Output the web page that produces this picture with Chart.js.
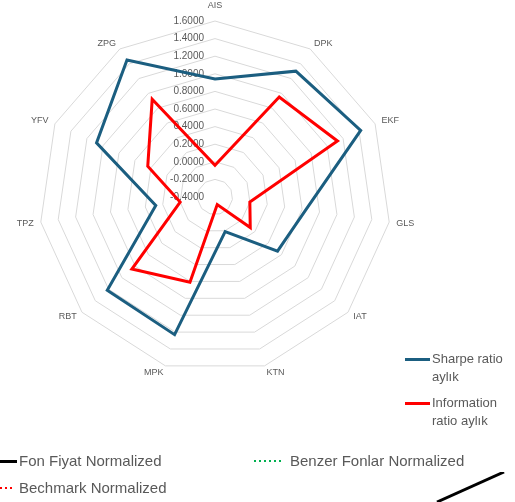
<!DOCTYPE html>
<html>
<head>
<meta charset="utf-8">
<script src="https://cdn.jsdelivr.net/npm/chart.js@4"></script>
<style>
html,body{margin:0;padding:0;background:#fff;width:515px;height:502px;overflow:hidden;font-family:"Liberation Sans",Arial,sans-serif;color:#595959;}
#wrap{position:relative;width:515px;height:502px;}
#radar{position:absolute;left:0;top:0;}
#tail{position:absolute;left:432px;top:468px;}
.rleg{position:absolute;left:405px;font-size:13px;line-height:17.5px;}
.rleg .sw{position:absolute;left:0;top:7.5px;width:25px;height:3px;}
.rleg .tx{position:absolute;left:27px;top:0;white-space:nowrap;}
.bleg{position:absolute;font-size:15px;line-height:18px;white-space:nowrap;}
.bsw{position:absolute;height:3px;}
</style>
</head>
<body>
<div id="wrap">
  <canvas id="radar" width="515" height="502"></canvas>
  <canvas id="tail" width="78" height="34"></canvas>

  <div class="rleg" style="top:350px;"><span class="sw" style="background:#1B5E80;"></span><div class="tx">Sharpe ratio<br>aylık</div></div>
  <div class="rleg" style="top:394px;"><span class="sw" style="background:#FF0000;"></span><div class="tx">Information<br>ratio aylık</div></div>

  <div class="bsw" style="left:0;top:459.5px;width:17px;background:#000;"></div>
  <div class="bleg" style="left:19px;top:452px;">Fon Fiyat Normalized</div>
  <div class="bsw" style="left:254px;top:460px;width:30px;height:2px;background:repeating-linear-gradient(to right,#00B050 0 2px,transparent 2px 5px);"></div>
  <div class="bleg" style="left:290px;top:452px;">Benzer Fonlar Normalized</div>
  <div class="bsw" style="left:0;top:487px;width:13px;height:2px;background:repeating-linear-gradient(to right,#FF0000 0 2px,transparent 2px 5px);"></div>
  <div class="bleg" style="left:19px;top:479px;">Bechmark Normalized</div>
</div>
<script>
// ---- data ----
const categories = ['AIS','DPK','EKF','GLS','IAT','KTN','MPK','RBT','TPZ','YFV','ZPG'];
const sharpeRatioAylik = [0.94, 1.30, 1.42, 0.64, 0.54, 0.01, 1.23, 1.22, 0.28, 1.08, 1.45];
const informationRatioAylik = [-0.04, 0.95, 1.13, 0.00, 0.13, -0.31, 0.61, 0.85, 0.00, 0.44, 0.92];
const tickValues = [-0.4, -0.2, 0.0, 0.2, 0.4, 0.6, 0.8, 1.0, 1.2, 1.4, 1.6];
const fonFiyatTail = [1.02, 1.10];

const tickLabelPlugin = {
  id: 'tickLabelsLeft',
  beforeDatasetsDraw(chart) {
    const s = chart.scales.r, ctx = chart.ctx;
    ctx.save();
    ctx.font = '10px "Liberation Sans", Arial, sans-serif';
    ctx.fillStyle = '#595959';
    ctx.textAlign = 'right';
    ctx.textBaseline = 'middle';
    s.ticks.forEach(t => {
      const d = s.getDistanceFromCenterForValue(t.value);
      ctx.fillText(t.value.toFixed(4), s.xCenter - 11, s.yCenter - d);
    });
    ctx.restore();
  }
};

const pointLabelPlugin = {
  id: 'pointLabelsSide',
  beforeDatasetsDraw(chart) {
    const s = chart.scales.r, ctx = chart.ctx;
    ctx.save();
    ctx.font = '9px "Liberation Sans", Arial, sans-serif';
    ctx.fillStyle = '#595959';
    ctx.textBaseline = 'middle';
    s.getLabels().forEach((lab, i) => {
      const p = s.getPointPosition(i, s.drawingArea + 7);
      const ang = ((s.getIndexAngle(i) * 180 / Math.PI) % 360 + 360) % 360;
      let align = 'center', y = p.y;
      if (ang > 1 && ang < 179) align = 'left';
      else if (ang > 181 && ang < 359) align = 'right';
      if (ang <= 1 || ang >= 359) y -= 8.5;
      ctx.textAlign = align;
      ctx.fillText(lab, p.x, y);
    });
    ctx.restore();
  }
};

new Chart(document.getElementById('radar'), {
  type: 'radar',
  data: {
    labels: categories,
    datasets: [
      { label: 'Sharpe ratio aylık', data: sharpeRatioAylik, borderColor: '#1B5E80', borderWidth: 3, fill: false, pointRadius: 0, order: 1 },
      { label: 'Information ratio aylık', data: informationRatioAylik, borderColor: '#FF0000', borderWidth: 3, fill: false, pointRadius: 0, order: 0 }
    ]
  },
  options: {
    responsive: false,
    animation: false,
    layout: { padding: { left: 39, top: 21, right: 124, bottom: 129 } },
    plugins: { legend: { display: false }, tooltip: { enabled: false } },
    elements: { line: { tension: 0, borderJoinStyle: 'miter' } },
    scales: {
      r: {
        min: -0.4,
        max: 1.6,
        afterBuildTicks: s => { s.ticks = tickValues.map(v => ({ value: v })); },
        ticks: { display: false, stepSize: 0.2 },
        pointLabels: { display: false },
        grid: { color: '#D9D9D9', lineWidth: 1, circular: false },
        angleLines: { display: false }
      }
    }
  },
  plugins: [tickLabelPlugin, pointLabelPlugin]
});

new Chart(document.getElementById('tail'), {
  type: 'line',
  data: { labels: ['', ''], datasets: [{ label: 'Fon Fiyat Normalized', data: fonFiyatTail, borderColor: '#000', borderWidth: 3, pointRadius: 0 }] },
  options: {
    responsive: false,
    animation: false,
    layout: { padding: { left: 5, right: 6, top: 4, bottom: 0 } },
    plugins: { legend: { display: false }, tooltip: { enabled: false } },
    scales: { x: { display: false, offset: false }, y: { display: false, min: 1.02, max: 1.10 } }
  }
});
</script>
</body>
</html>
